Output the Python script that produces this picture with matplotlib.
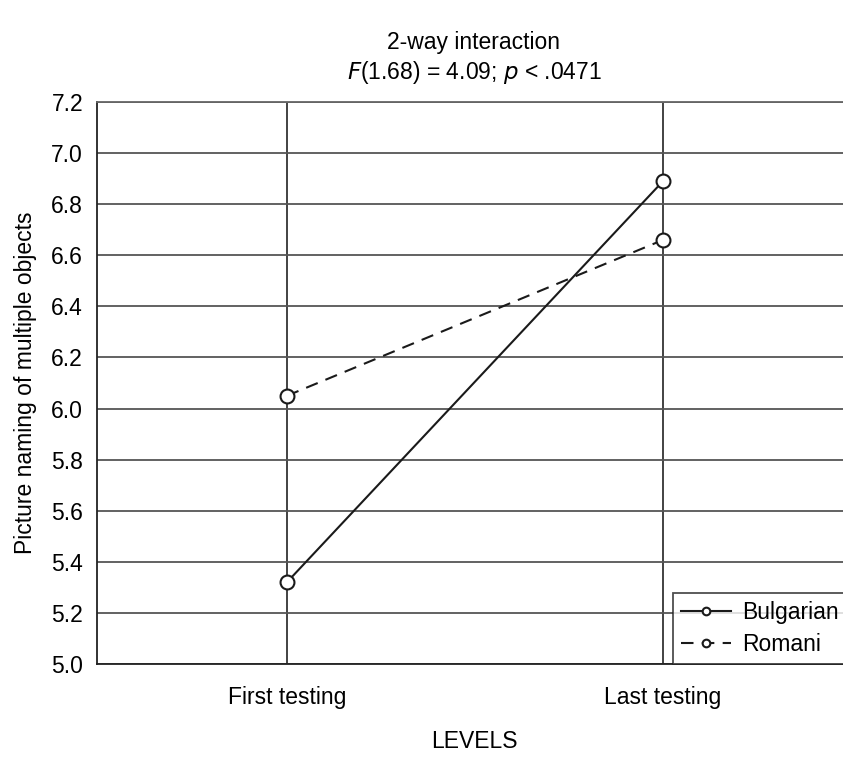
import matplotlib.pyplot as plt

plt.rcParams["font.family"] = ["Liberation Sans", "DejaVu Sans"]

levels = ["First testing", "Last testing"]
bulgarian = [5.32, 6.89]
romani = [6.05, 6.66]
y_ticks = [5.0, 5.2, 5.4, 5.6, 5.8, 6.0, 6.2, 6.4, 6.6, 6.8, 7.0, 7.2]

fig = plt.figure(figsize=(8.43, 7.6), dpi=100)
W, H = 843, 760
# axes extends past the right edge of the picture, as in the source
ax = fig.add_axes([97 / W, 1 - 664 / H, (851 - 97) / W, (664 - 102) / H])

x = list(range(len(levels)))
ax.plot(x, bulgarian, color="#1a1a1a", lw=1.5, ls="-", marker="o",
        ms=10, mfc="white", mec="#1a1a1a", mew=1.5, label="Bulgarian", zorder=3)
ax.plot(x, romani, color="#1a1a1a", lw=1.5, ls=(0, (6, 4)), marker="o",
        ms=10, mfc="white", mec="#1a1a1a", mew=1.5, label="Romani", zorder=3)

ax.set_xlim(-0.505, 1.5)
ax.set_ylim(5.0, 7.2)
ax.set_yticks(y_ticks)
ax.set_yticklabels([f"{v:.1f}" for v in y_ticks])
ax.set_xticks(x)
ax.set_xticklabels(levels)
ax.tick_params(length=0, labelsize=16.5, pad=10)
ax.tick_params(axis="x", pad=16)

ax.grid(axis="y", color="#555555", lw=1.3)
ax.grid(axis="x", color="#222222", lw=1.2)
ax.set_axisbelow(True)
for side in ["left", "bottom"]:
    ax.spines[side].set_color("#222222")
    ax.spines[side].set_linewidth(1.3)
ax.spines["top"].set_color("#666666")
ax.spines["top"].set_linewidth(1.3)
ax.spines["right"].set_visible(False)

ax.set_ylabel("Picture naming of multiple objects", fontsize=16.5, labelpad=10)
fig.text(474 / W, 1 - 742 / H, "LEVELS", ha="center", va="center",
         fontsize=16.5)

fig.text(474 / W, 1 - 43 / H, "2-way interaction", ha="center", va="center",
         fontsize=16.5)
fig.text(474 / W, 1 - 73 / H, r"$\it{F}$(1.68) = 4.09; $\it{p}$ < .0471",
         ha="center", va="center", fontsize=16.5)

leg = ax.legend(loc="lower left", bbox_to_anchor=(673 / W, 1 - 664 / H),
                bbox_transform=fig.transFigure, borderaxespad=0,
                fontsize=16.5, frameon=True, fancybox=False, markerscale=0.55,
                handlelength=2.2, handletextpad=0.45, borderpad=0.35,
                labelspacing=0.4)
leg.get_frame().set_edgecolor("#222222")
leg.get_frame().set_linewidth(1.3)

fig.savefig("out.png", dpi=100)
